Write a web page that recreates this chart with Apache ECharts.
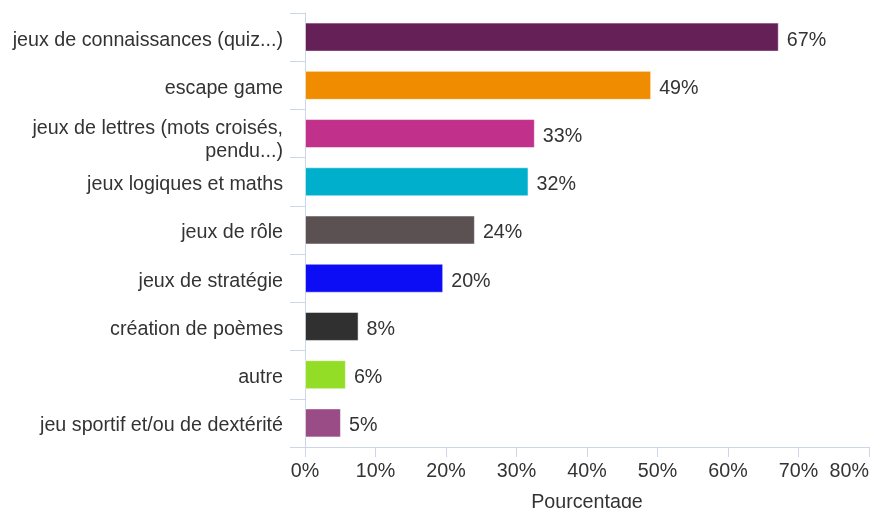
<!DOCTYPE html>
<html>
<head>
<meta charset="utf-8">
<script src="https://cdn.jsdelivr.net/npm/echarts@6/dist/echarts.min.js"></script>
<style>
  html, body { margin: 0; padding: 0; background: #fff; }
  #main { width: 871px; height: 508px; }
</style>
</head>
<body>
<div id="main"></div>
<script>
// catégories, du haut vers le bas
var categories = [
  'jeux de connaissances (quiz...)',
  'escape game',
  'jeux de lettres (mots croisés,\npendu...)',
  'jeux logiques et maths',
  'jeux de rôle',
  'jeux de stratégie',
  'création de poèmes',
  'autre',
  'jeu sportif et/ou de dextérité'
]
var values = [67.2, 49.1, 32.6, 31.7, 24.1, 19.6, 7.6, 5.8, 5.1]
var barColors = ['#662058', '#f08c00', '#c1308b', '#00afcc', '#5b5152', '#0c0cf5', '#303030', '#93dd26', '#9a4c87']
var xTicks = [0, 10, 20, 30, 40, 50, 60, 70, 80]

var font = "'Liberation Sans', Arial, sans-serif"
var axisColor = '#ccd6eb'
var fs = 19.7

function txt(extra) {
  var s = { color: '#333', fontSize: fs, fontFamily: font, lineHeight: 23 }
  for (var k in extra) s[k] = extra[k]
  return s
}

var chart = echarts.init(document.getElementById('main'))
chart.setOption({
  animation: false,
  grid: { left: 305, right: 2, top: 13, bottom: 61, outerBoundsMode: 'none', containLabel: false },
  xAxis: {
    type: 'value',
    min: xTicks[0],
    max: xTicks[xTicks.length - 1],
    interval: 10,
    name: 'Pourcentage',
    nameLocation: 'middle',
    nameGap: 46,
    nameTextStyle: { color: '#333', fontSize: fs, fontFamily: font },
    axisLine: { show: true, lineStyle: { color: axisColor, width: 1 } },
    axisTick: { show: true, length: 10, lineStyle: { color: axisColor } },
    splitLine: { show: false },
    axisLabel: {
      color: '#333',
      fontSize: fs,
      fontFamily: font,
      margin: 15,
      alignMaxLabel: 'right',
      formatter: function (v) { return v + '%' }
    }
  },
  yAxis: {
    type: 'category',
    inverse: true,
    data: categories,
    axisLine: { show: true, lineStyle: { color: axisColor, width: 1 } },
    axisTick: { show: true, length: 15, lineStyle: { color: axisColor } },
    axisLabel: {
      color: '#333',
      fontSize: fs,
      fontFamily: font,
      margin: 22,
      lineHeight: 23,
      align: 'right',
      // un peu plus bas que le centre de la bande, comme dans l'original
      formatter: function (v) {
        var lines = v.split('\n')
        if (lines.length === 1) return '{a|' + v + '}'
        return lines.map(function (l) { return '{b|' + l + '}' }).join('\n')
      },
      rich: {
        a: txt({ padding: [6, 0, 0, 0] }),
        b: txt({ padding: [14, 0, 0, 0] })
      }
    }
  },
  series: [
    {
      type: 'bar',
      barWidth: 29,
      data: values.map(function (v, i) {
        return { value: v, itemStyle: { color: barColors[i] } }
      }),
      itemStyle: { borderColor: 'rgba(255,255,255,0.5)', borderWidth: 1 },
      label: {
        show: true,
        position: 'right',
        distance: 8,
        offset: [0, 3],
        color: '#333',
        fontSize: fs,
        fontFamily: font,
        formatter: function (p) { return Math.round(p.value) + '%' }
      }
    }
  ]
})
</script>
</body>
</html>
